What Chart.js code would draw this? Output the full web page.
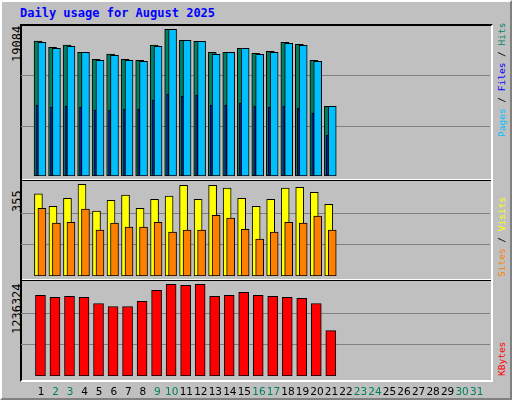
<!DOCTYPE html>
<html>
<head>
<meta charset="utf-8">
<script src="https://cdn.jsdelivr.net/npm/chart.js@4"></script>
<style>
  body { margin: 0; }
  #page { position: relative; width: 508px; height: 396px; background: #c0c0c0;
    border-top: 2px solid #fff; border-left: 2px solid #fff;
    border-right: 2px solid #808080; border-bottom: 2px solid #808080; overflow: hidden; }
  #frame { position: absolute; left: 18px; top: 22px; width: 469px; height: 354px;
    border-top: 2px solid #000; border-left: 2px solid #000;
    border-right: 2px solid #fff; border-bottom: 2px solid #fff; }
  .sep { position: absolute; left: 20px; width: 469px; height: 1px; background: #000;
    border-top: 1px solid #fff; }
  canvas { position: absolute; }
  .txt { position: absolute; font-family: "DejaVu Sans Mono", monospace; white-space: nowrap; }
  .rot { transform-origin: 0 0; transform: rotate(-90deg); font-size: 12px; }
  .rs { font-size: 9.5px; }
</style>
</head>
<body>
<div id="page">
  <div class="txt" style="left:18px;top:4px;color:#0000ff;font-weight:bold;font-size:12px">Daily usage for August 2025</div>
  <div id="frame"></div>
  <div class="sep" style="top:177px"></div>
  <div class="sep" style="top:277px"></div>
  <div class="txt rot" style="left:8px;top:60px;color:#000">19084</div>
  <div class="txt rot" style="left:8px;top:210px;color:#000">355</div>
  <div class="txt rot" style="left:8px;top:332px;color:#000">1236324</div>
  <div class="txt rot rs" style="left:494px;top:135px"><span style="color:#00bfff">Pages</span><span style="color:#000"> / </span><span style="color:#0000ff">Files</span><span style="color:#000"> / </span><span style="color:#008060">Hits</span></div>
  <div class="txt rot rs" style="left:494px;top:275px"><span style="color:#ff8000">Sites</span><span style="color:#000"> / </span><span style="color:#ffff00">Visits</span></div>
  <div class="txt rot rs" style="left:494px;top:374px"><span style="color:#ff0000">KBytes</span></div>
  <canvas id="c1" width="469" height="150" style="left:19px;top:24px"></canvas>
  <canvas id="c2" width="469" height="94" style="left:19px;top:180px"></canvas>
  <canvas id="c3" width="469" height="116" style="left:19px;top:280px"></canvas>
</div>
<script>
const days = Array.from({ length: 31 }, (_, i) => i + 1);
const weekend = [2, 3, 9, 10, 16, 17, 23, 24, 30, 31];
const hits = [17566, 16742, 17045, 16091, 15180, 15874, 15180, 15050, 17045, 19084, 17653,
  17523, 16091, 16091, 16612, 15961, 16221, 17393, 17132, 15050, 9065];
const files = [17393, 16612, 16872, 16091, 15050, 15701, 15050, 14920, 16872, 19084, 17653,
  17523, 15831, 16091, 16612, 15831, 16091, 17262, 17002, 14920, 9065];
const pages = [9239, 8978, 9108, 8978, 8588, 8588, 8718, 8718, 9889, 10670, 10410,
  10540, 9239, 9239, 9499, 9108, 8978, 9108, 8848, 8198, 5335];
const visits = [318, 270, 301, 355, 251, 293, 313, 262, 297, 309, 351,
  297, 351, 340, 301, 270, 297, 340, 343, 324, 278];
const sites = [262, 205, 208, 259, 178, 205, 189, 189, 208, 170, 178,
  178, 235, 224, 181, 143, 170, 208, 205, 232, 178];
const kbytes = [1086878, 1059706, 1073292, 1059706, 978190, 937432, 937432, 1005363, 1154809, 1236324, 1222738,
  1236324, 1073292, 1086878, 1127636, 1086878, 1073292, 1059706, 1046120, 978190, 611369];

const xMin = 1 - 13 / 15, xMax = 1 + 456 / 15;

// lower order is drawn on top
function ds(values, shift, width, color, order) {
  return {
    data: values.map((v, i) => ({ x: i + 1 + shift, y: v })),
    backgroundColor: color, borderColor: '#000', borderWidth: 1,
    barThickness: width, grouped: false, borderSkipped: false, order,
  };
}

function panel(id, datasets, yMax, showDays) {
  new Chart(document.getElementById(id), {
    type: 'bar',
    data: { datasets },
    options: {
      responsive: false, animation: false,
      layout: { padding: 0 },
      plugins: { legend: { display: false }, tooltip: { enabled: false } },
      scales: {
        x: {
          type: 'linear', min: xMin, max: xMax, display: showDays,
          grid: { display: false }, border: { display: false },
          afterBuildTicks: (s) => { s.ticks = days.map((d) => ({ value: d })); },
          afterFit: (s) => { s.height = showDays ? 22 : 0; },
          ticks: {
            padding: 2, maxRotation: 0, autoSkip: false,
            font: { family: 'DejaVu Sans', size: 10.5 },
            color: (c) => (weekend.includes(c.tick.value) ? '#008060' : '#000'),
            callback: (v) => v,
          },
        },
        y: {
          min: 0, max: yMax,
          afterBuildTicks: (s) => { s.ticks = [{ value: yMax * 0.33 }, { value: yMax * 0.67 }]; },
          afterFit: (s) => { s.width = 0; },
          ticks: { display: false },
          grid: { color: '#808080', drawTicks: false, lineWidth: 1 },
          border: { display: false },
        },
      },
    },
  });
}

panel('c1', [
  ds(hits, -0.213, 8, '#008060', 3),
  ds(files, 0.053, 8, '#00bfff', 2),
  ds(pages, -0.287, 2, '#0000ff', 1),
], 19513, false);
panel('c2', [
  ds(visits, -0.187, 8, '#ffff00', 2),
  ds(sites, 0.053, 8, '#ff8000', 1),
], 364, false);
panel('c3', [ds(kbytes, -0.047, 10, '#ff0000', 1)], 1267572, true);
</script>
</body>
</html>
